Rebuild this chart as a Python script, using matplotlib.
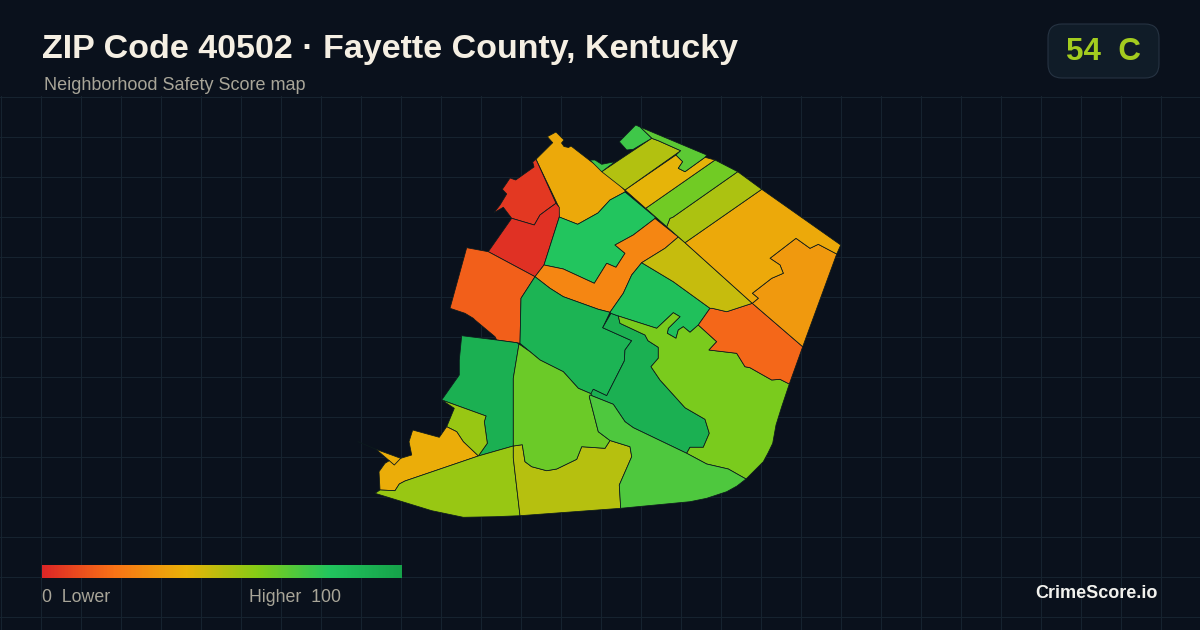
import numpy as np
import matplotlib
matplotlib.use("Agg")
import matplotlib.pyplot as plt
from matplotlib.colors import LinearSegmentedColormap
from matplotlib.patches import FancyBboxPatch, Polygon

plt.rcParams['font.family'] = ['Liberation Sans', 'DejaVu Sans']

BG = "#0a111c"
GRID = "#16232f"
EDGE = "#0c1a1c"

title = "ZIP Code 40502 · Fayette County, Kentucky"
subtitle = "Neighborhood Safety Score map"
zip_score = 54
zip_grade = "C"

# score colour ramp
ramp_stops = [0.0, 0.2, 0.4, 0.6, 0.8, 1.0]
ramp_colors = ["#dc2626", "#f97316", "#eab308", "#84cc16", "#22c55e", "#16a34a"]

nw_amber = [(556,132),(564,140),(561.5,143),(564,146.5),(568.5,147.5),(571,146),(590,160.7),(610,175),(625,190.5),(625,192),(610,200),(598,213),(577.7,224.3),(559,217),(558.3,206),(536,159.3),(552.7,142.7),(547.3,136.7)]
nw_red = [(532.7,162),(534,167),(515.7,180),(510,178),(506.7,183),(502.3,189.3),(506.7,194),(500,205),(494,212.7),(503.3,207.3),(511.7,218.3),(534.3,225),(540,215),(546.7,210),(556,203.3),(536,159.3)]
west_red = [(511.7,218.3),(534.3,225),(540,215),(546.7,210),(556,203.3),(559.3,207.3),(559.3,217),(544,265),(535,276.7),(488.3,251.7)]
west_orange = [(466.7,247.7),(488.3,251.7),(535,276.7),(521,298.3),(520.3,330),(520,343.3),(516.7,342.7),(496.7,340),(495,336.7),(475,320),(473.3,318.3),(465,313.3),(450,308.3)]
upper_green = [(559.3,217),(577.7,224.3),(598,213),(610,200),(625,192),(655,217),(655,218.5),(633.3,235),(615,245),(625,253.3),(616,267.3),(606.7,263.3),(594.3,283.3),(563.3,269),(544,265)]
orange_strip = [(544,265),(563.3,269),(594.3,283.3),(606.7,263.3),(616,267.3),(625,253.3),(615,245),(633.3,235),(655,218.5),(678.3,237),(665,248.3),(641.7,262.7),(631.7,275),(623.3,293.3),(610,312.3),(598.3,309.3),(563.3,296.7),(550,288.3),(535,276.7)]
center_green = [(535,276.7),(550,288.3),(563.3,296.7),(598.3,309.3),(610,312.3),(602.7,327.7),(631.7,340.7),(625,350),(624.3,361),(606.7,395.7),(593.3,389.3),(591.7,394),(578.3,388.3),(563.3,371.7),(540,360),(520,343.3),(520.3,330),(521,298.3)]
park_green = [(611,313.3),(618.3,316),(620,323.3),(645,335),(648,340.7),(658.3,347.3),(658.3,358.3),(651,366.7),(660,380),(685,407.7),(705,419.3),(709.3,433.3),(703.3,447.3),(690,447.3),(686.7,453.3),(633.3,427.7),(625,421.7),(613.3,404.3),(590,395),(593.3,389.3),(606.7,395.7),(624.3,361),(625,350),(631.7,340.7),(602.7,327.7)]
mid_green = [(641.7,262.7),(673.3,281.7),(710,308.3),(698.3,325),(690,332.3),(683.3,326.7),(678.3,330),(676,338.3),(667.3,333.3),(668.3,328.3),(680,316.7),(673.3,312.7),(656.7,328.3),(618.3,316),(611,313.3),(610,312.3),(623.3,293.3),(631.7,275)]
east_lime = [(618.3,316),(656.7,328.3),(673.3,312.7),(680,316.7),(668.3,328.3),(667.3,333.3),(676,338.3),(678.3,330),(683.3,326.7),(690,332.3),(698.3,325),(716.7,341.7),(709,350),(736.7,353.3),(745,366.7),(750,367.7),(771.7,380),(780,379.3),(789.3,384),(781.7,406.7),(776,425),(772.7,443.3),(768,453),(763.3,461.7),(755,470),(746,479),(728.3,469),(706.7,464),(686.7,453.3),(690,447.3),(703.3,447.3),(709.3,433.3),(705,419.3),(685,407.7),(660,380),(651,366.7),(658.3,358.3),(658.3,347.3),(648,340.7),(645,335),(620,323.3)]
east_orange = [(698.3,325),(710,308.3),(712.3,308.3),(726.7,311.7),(752.3,303.3),(802.7,346.7),(789.3,384),(780,379.3),(771.7,380),(750,367.7),(745,366.7),(736.7,353.3),(709,350),(716.7,341.7)]
mid_yellow = [(678.3,237),(685,242.7),(752.3,303.3),(726.7,311.7),(712.3,308.3),(710,308.3),(673.3,281.7),(641.7,262.7),(665,248.3)]
ne_orange = [(770,258.3),(796,238.3),(810,248.3),(818.3,244.3),(836.7,254),(802.7,346.7),(752.3,303.3),(758.3,298.3),(752.3,293.3),(771.7,278.3),(783.3,273.3),(780,265)]
ne_amber = [(761.7,189.3),(840.7,245),(836.7,254),(818.3,244.3),(810,248.3),(796,238.3),(770,258.3),(780,265),(783.3,273.3),(771.7,278.3),(752.3,293.3),(758.3,298.3),(752.3,303.3),(685,242.7)]
ne_olive = [(737.7,171.7),(761.7,189.3),(685,242.7),(666.7,226.7),(670,218.3),(672.7,217.3)]
ne_lime = [(715,160),(737.7,171.7),(672.7,217.3),(670,218.3),(666.7,226.7),(645.7,208.3)]
north_amber = [(625,190),(676,155),(682.7,161.7),(678.3,168.3),(685,171.7),(705,157.3),(715,160),(645.7,208.3)]
north_olive = [(601.7,171.7),(651.7,138.3),(658.3,140.7),(680.7,150.7),(625,190)]
north_strip = [(640,127),(706.7,155),(705,157.3),(685,171.7),(678.3,168.3),(682.7,161.7),(676,155),(680.7,150.7),(658.3,140.7),(651.7,138.3)]
north_green = [(635.7,125),(640,127),(651.7,138.3),(633.3,149.3),(626.7,150),(619.3,141.7)]
north_sliver = [(590,160),(595,160),(601.7,164.3),(615,161.7),(601.7,171.7)]
sw_green = [(461.7,335.7),(496.7,340),(516.7,342.7),(519,344),(513.3,378.3),(513.3,446),(478.3,456),(487.3,443.3),(484.3,421.7),(486,416),(441.7,400),(459.3,375),(459.3,360)]
sw_lime = [(441.7,400),(486,416),(484.3,421.7),(487.3,443.3),(478.3,456),(463.3,441.7),(456.7,431.7),(446.7,426.7),(454.3,408.3)]
sw_amber = [(412.7,430),(439.3,437.3),(446.7,426.7),(456.7,431.7),(463.3,441.7),(478.3,456),(405,481),(399.3,484),(395,490.7),(380,490),(379,471.7),(385,463.3),(389.3,460.7),(376,449.3),(400.7,458.3),(411.7,455),(409,441.7)]
south_lime = [(375,493.3),(380,490),(395,490.7),(399.3,484),(405,481),(478.3,456),(513.3,446),(513.3,458),(520,515.7),(495,516.7),(463.3,517.3),(431.7,510.7)]
south_olive = [(513.3,446),(522.3,444.7),(525,461.7),(531.7,466.7),(546.7,470.7),(556.7,469),(576.7,459.3),(581.7,446.7),(605,448.3),(610,440.5),(630,446.7),(631.7,456.7),(619.3,485),(620.7,508.3),(520,515.7),(513.3,458)]
central_lime = [(519,344),(530,351.7),(540,360),(563.3,371.7),(578.3,388.3),(591.7,394),(589.3,396.7),(598.3,431.7),(610,440.5),(605,448.3),(581.7,446.7),(576.7,459.3),(556.7,469),(546.7,470.7),(531.7,466.7),(525,461.7),(522.3,444.7),(513.3,446),(513.3,378.3)]
se_green = [(590,395),(613.3,404.3),(625,421.7),(633.3,427.7),(686.7,453.3),(706.7,464),(728.3,469),(746,479),(737,486),(726.7,491.7),(706.7,498.3),(690,501.7),(620.7,508.3),(619.3,485),(631.7,456.7),(630,446.7),(610,440.5),(598.3,431.7),(589.3,396.7)]

hoods = [nw_amber, nw_red, west_red, west_orange, upper_green, orange_strip, center_green,
         park_green, mid_green, east_lime, east_orange, mid_yellow, ne_orange, ne_amber,
         ne_olive, ne_lime, north_amber, north_olive, north_strip, north_green, north_sliver,
         sw_green, sw_lime, sw_amber, south_lime, south_olive, central_lime, se_green]
hood_scores = [37, 5, 3, 15, 80, 26, 90,
               92, 83, 62, 17, 47, 32, 37,
               52, 64, 41, 51, 68, 74, 74,
               92, 56, 38, 56, 50, 65, 71]

# stray boundary bits
spike_x = [358, 376]
spike_y = [441.7, 449.3]
notch_x = [389.3, 394.3, 400.7]
notch_y = [460.7, 465, 458.3]

cmap = LinearSegmentedColormap.from_list("safety", list(zip(ramp_stops, ramp_colors)))

fig = plt.figure(figsize=(12, 6.3), dpi=100, facecolor=BG)
ax = fig.add_axes([0, 0, 1, 1])
ax.set_xlim(0, 1200)
ax.set_ylim(630, 0)
ax.axis("off")

## Grid under the map
for gx in range(0, 1201, 40):
    ax.plot([gx + 0.5, gx + 0.5], [96, 630], color=GRID, linewidth=0.72, zorder=1)
for gy in range(96, 630, 40):
    ax.plot([0, 1200], [gy + 0.5, gy + 0.5], color=GRID, linewidth=0.72, zorder=1)

## Map
for hood, score in zip(hoods, hood_scores):
    ax.add_patch(Polygon(hood, closed=True, facecolor=cmap(score / 100), edgecolor=EDGE,
                         linewidth=0.55, joinstyle="round", zorder=2))
ax.plot(spike_x, spike_y, color=EDGE, linewidth=0.6, zorder=3)
ax.plot(notch_x, notch_y, color=EDGE, linewidth=0.6, zorder=3)

## Titles
ax.text(42, 49.5, title, fontsize=24.5, fontweight="bold", color="#f5efe3", va="center", ha="left", zorder=5)
ax.text(44, 86, subtitle, fontsize=12.95, color="#a8a598", va="center", ha="left", zorder=5)

## Score pill
ax.add_patch(FancyBboxPatch((1062, 38), 83, 26, boxstyle="round,pad=14,rounding_size=14",
                            facecolor="#101c28", edgecolor="#263342", linewidth=0.8, zorder=4))
ax.text(1103, 52, f"{zip_score}  {zip_grade}", fontsize=22.6, fontweight="bold",
        color="#a3cc1f", va="center", ha="center", zorder=5)

## Legend bar
bar = np.linspace(0, 1, 360).reshape(1, -1)
ax.imshow(bar, cmap=cmap, extent=(42, 402, 578, 565), aspect="auto", zorder=4)
ax.set_xlim(0, 1200)
ax.set_ylim(630, 0)
ax.text(42, 597, "0  Lower", fontsize=12.8, color="#a8a598", va="center", ha="left", zorder=5)
ax.text(249, 597, "Higher  100", fontsize=12.8, color="#a8a598", va="center", ha="left", zorder=5)

ax.text(1158, 593, "CrimeScore.io", fontsize=13, fontweight="bold", color="#f2f2ee", va="center", ha="right", zorder=5)

fig.savefig("out.png", dpi=100, facecolor=BG)
